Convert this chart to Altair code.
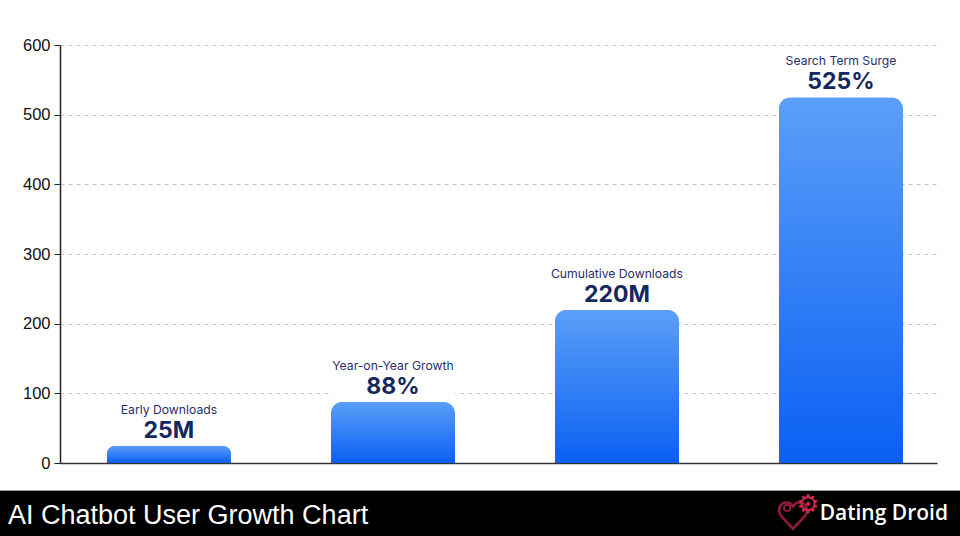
import altair as alt
import pandas as pd

# Chart data
categories = ["Early Downloads", "Year-on-Year Growth", "Cumulative Downloads", "Search Term Surge"]
values = [25, 88, 220, 525]
value_labels = ["25M", "88%", "220M", "525%"]
y_ticks = [0, 100, 200, 300, 400, 500, 600]

title_text = "AI Chatbot User Growth Chart"
brand_text = "Dating Droid"

df = pd.DataFrame({"category": categories, "value": values, "label": value_labels})
one = pd.DataFrame({"k": [0]})

W, H = 877, 418
PAD = {"left": 60, "top": 45, "right": 23, "bottom": 73}

x_enc = alt.X("category:N", sort=categories,
              scale=alt.Scale(paddingInner=0.445, paddingOuter=0.18, align=0.58),
              axis=alt.Axis(title=None, labels=False, ticks=False,
                            domainColor="#333333", domainWidth=1.5, grid=False))
y_scale = alt.Scale(domain=[0, 600], nice=False)
y_axis = alt.Axis(title=None, values=y_ticks, grid=True, gridColor="#c4c4c4",
                  gridDash=[4, 4], gridWidth=1, domainColor="#222222",
                  domainWidth=1.5, tickColor="#222222", tickSize=6,
                  labelFont="Liberation Sans", labelFontSize=16.5,
                  labelColor="#111111", labelPadding=4)
y_enc = alt.Y("value:Q", scale=y_scale, axis=y_axis)

base = alt.Chart(df)

# white backing behind the labels above each bar
label_box = base.transform_calculate(top="datum.value + 68").mark_bar(color="white").encode(
    x=x_enc, y=y_enc, y2="top:Q")

gradient = alt.Gradient(
    gradient="linear",
    stops=[alt.GradientStop(color="#5c9ff8", offset=0),
           alt.GradientStop(color="#0a60f3", offset=1)],
    x1=0, x2=0, y1=0, y2=1)

bars = base.mark_bar(color=gradient, cornerRadiusTopLeft=12, cornerRadiusTopRight=12).encode(
    x=x_enc, y=y_enc)

value_text = base.mark_text(font="Inter", fontSize=23, fontWeight="bold", color="#14285e",
                            baseline="alphabetic", dy=-8).encode(
    x=x_enc, y=alt.Y("value:Q", scale=y_scale), text="label:N")

cat_text = base.mark_text(font="Inter", fontSize=12.2, color="#1f2f6a",
                          baseline="alphabetic", dy=-32).encode(
    x=x_enc, y=alt.Y("value:Q", scale=y_scale), text="category:N")

# footer band
band = alt.Chart(one).mark_rect(color="#000000").encode(
    x=alt.value(-PAD["left"]), x2=alt.value(W + PAD["right"]),
    y=alt.value(446), y2=alt.value(H + PAD["bottom"]))
band_line = alt.Chart(one).mark_rule(color="#9a9a9a", strokeWidth=1).encode(
    x=alt.value(-PAD["left"]), x2=alt.value(W + PAD["right"]), y=alt.value(445.5))

title = alt.Chart(one).mark_text(text=title_text, font="Liberation Sans", fontSize=27,
                                 color="white", align="left", baseline="alphabetic").encode(
    x=alt.value(-52), y=alt.value(479))

brand = alt.Chart(one).mark_text(text=brand_text, font="Open Sans", fontSize=21,
                                 fontWeight=600, color="white", align="right",
                                 baseline="alphabetic").encode(
    x=alt.value(888), y=alt.value(475))

heart_path = ("M0,0.9 L-0.82,0.02 C-1.15,-0.35 -0.95,-0.95 -0.45,-0.95 "
              "C-0.2,-0.95 -0.05,-0.8 0,-0.6 C0.05,-0.8 0.2,-0.95 0.45,-0.95 "
              "C0.95,-0.95 1.15,-0.35 0.82,0.02 Z")
heart = alt.Chart(one).mark_point(shape=heart_path, filled=False, stroke="#d0294f",
                                  strokeWidth=2.6, size=800).encode(
    x=alt.value(733), y=alt.value(471))
gear = alt.Chart(one).mark_text(text="\u2699", font="DejaVu Sans", fontSize=26,
                                color="#d0294f", baseline="middle", align="center").encode(
    x=alt.value(748), y=alt.value(460))
chip = alt.Chart(one).mark_point(shape="circle", filled=False, stroke="#d0294f",
                                 strokeWidth=1.8, size=40).encode(
    x=alt.value(727), y=alt.value(463))

chart = alt.layer(label_box, bars, value_text, cat_text, band, band_line, title, brand,
                  heart, gear, chip).properties(
    width=W, height=H, autosize=alt.AutoSizeParams(type="none"), padding=PAD,
    background="white"
).configure_view(stroke=None)

chart.save("out.html", embed_options={"renderer": "svg", "actions": False})
